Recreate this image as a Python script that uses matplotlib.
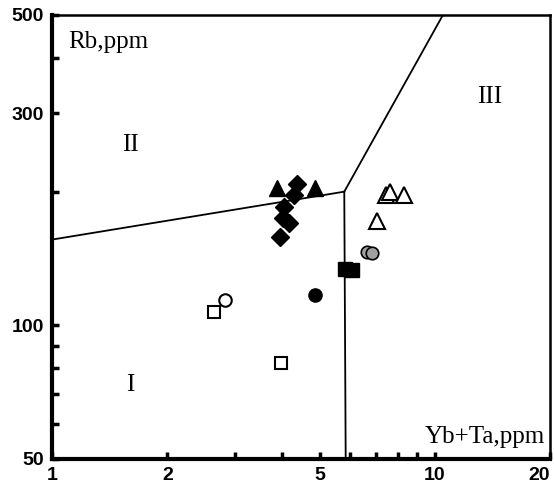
import matplotlib
matplotlib.use("Agg")
import matplotlib.pyplot as plt
from matplotlib.ticker import FixedLocator, NullFormatter, FixedFormatter

# Discrimination boundaries (Yb+Ta vs Rb)
bound_left_x = [1.0, 5.8]
bound_left_y = [156, 200]
bound_up_x = [5.8, 10.5]
bound_up_y = [200, 500]
bound_down_x = [5.8, 5.85]
bound_down_y = [200, 50]

# Samples
tri_f_x = [3.87, 4.87]
tri_f_y = [204, 204]
dia_x = [4.36, 4.29, 4.04, 4.01, 4.16, 3.94]
dia_y = [208, 196.5, 185, 174.5, 170, 158]
tri_o_x = [7.45, 7.64, 8.31, 7.06]
tri_o_y = [197, 200, 197, 172]
circ_g_x = [6.65, 6.86]
circ_g_y = [146.5, 145.5]
sq_f_x = [5.83, 6.08]
sq_f_y = [134, 133.3]
circ_f_x = [4.87]
circ_f_y = [117]
circ_o_x = [2.83]
circ_o_y = [114]
sq_o_x = [2.65, 3.97]
sq_o_y = [107.2, 82.3]

x_major = [1, 2, 5, 10, 20]
x_minor = [3, 4, 6, 7, 8, 9]
y_major = [50, 100, 300, 500]
y_minor = [60, 70, 80, 90, 200, 400]

fig = plt.figure(figsize=(5.54, 4.96), dpi=100)
ax = fig.add_axes([0.0939, 0.0746, 0.899, 0.8952])
ax.set_xscale("log")
ax.set_yscale("log")
ax.set_xlim(1, 20)
ax.set_ylim(50, 500)

lc = "black"
ax.plot(bound_left_x, bound_left_y, color=lc, lw=1.3)
ax.plot(bound_up_x, bound_up_y, color=lc, lw=1.3)
ax.plot(bound_down_x, bound_down_y, color=lc, lw=1.3)

ax.plot(sq_o_x, sq_o_y, ls="none", marker="s", ms=9, mfc="white", mec="black", mew=1.5)
ax.plot(circ_o_x, circ_o_y, ls="none", marker="o", ms=9, mfc="white", mec="black", mew=1.5)
ax.plot(circ_f_x, circ_f_y, ls="none", marker="o", ms=9.5, mfc="black", mec="black")
ax.plot(sq_f_x, sq_f_y, ls="none", marker="s", ms=10, mfc="black", mec="black")
ax.plot(circ_g_x, circ_g_y, ls="none", marker="o", ms=9, mfc="#a0a0a0", mec="black", mew=1.2)
ax.plot(tri_o_x, tri_o_y, ls="none", marker="^", ms=11, mfc="white", mec="black", mew=1.5)
ax.plot(dia_x, dia_y, ls="none", marker="D", ms=9, mfc="black", mec="black")
ax.plot(tri_f_x, tri_f_y, ls="none", marker="^", ms=11, mfc="black", mec="black")

ax.xaxis.set_major_locator(FixedLocator(x_major))
ax.xaxis.set_major_formatter(FixedFormatter([str(v) for v in x_major]))
ax.xaxis.set_minor_locator(FixedLocator(x_minor))
ax.xaxis.set_minor_formatter(NullFormatter())
ax.yaxis.set_major_locator(FixedLocator(y_major))
ax.yaxis.set_major_formatter(FixedFormatter([str(v) for v in y_major]))
ax.yaxis.set_minor_locator(FixedLocator(y_minor))
ax.yaxis.set_minor_formatter(NullFormatter())

ax.tick_params(which="both", direction="in", length=5, width=2.5, top=False, right=False)
ax.tick_params(axis="both", which="major", labelsize=14, pad=6)
for lab in ax.get_xticklabels() + ax.get_yticklabels():
    lab.set_fontweight("bold")
    lab.set_family("Liberation Sans")
ax.get_xticklabels()[-1].set_horizontalalignment("right")

ax.spines["left"].set_linewidth(3)
ax.spines["bottom"].set_linewidth(3)
ax.spines["top"].set_linewidth(1.8)
ax.spines["right"].set_linewidth(1.8)

serif = "Liberation Serif"
ax.text(0.032, 0.939, "Rb,ppm", transform=ax.transAxes, fontsize=18, family=serif, ha="left", va="center")
ax.text(0.99, 0.05, "Yb+Ta,ppm", transform=ax.transAxes, fontsize=18, family=serif, ha="right", va="center")
ax.text(0.157, 0.707, "II", transform=ax.transAxes, fontsize=18, family=serif, ha="center", va="center")
ax.text(0.879, 0.815, "III", transform=ax.transAxes, fontsize=18, family=serif, ha="center", va="center")
ax.text(0.157, 0.167, "I", transform=ax.transAxes, fontsize=18, family=serif, ha="center", va="center")

fig.savefig("out.png", dpi=100)
